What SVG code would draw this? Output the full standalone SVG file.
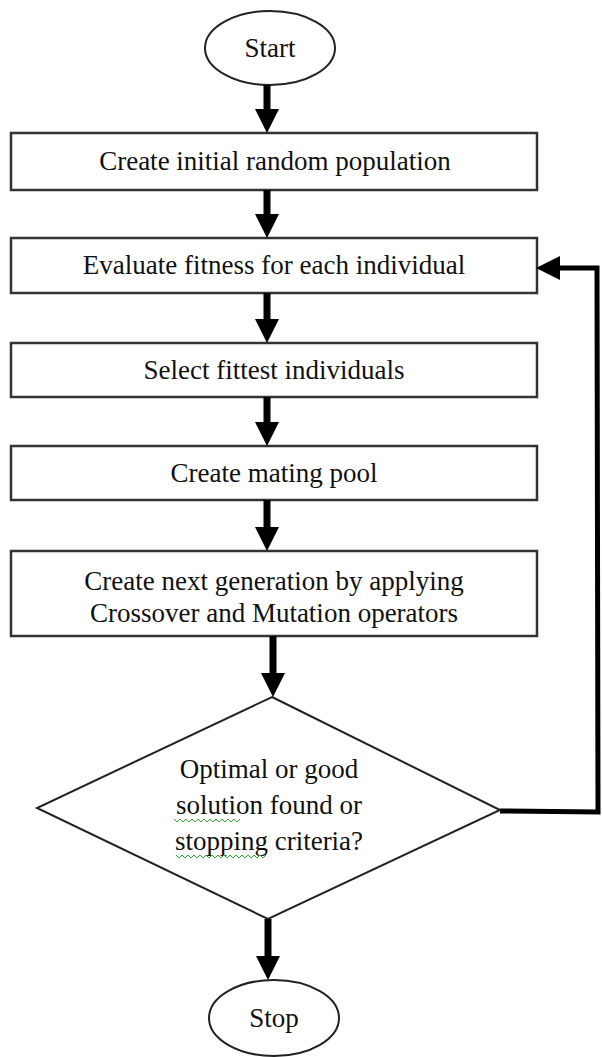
<svg xmlns="http://www.w3.org/2000/svg" width="602" height="1057" viewBox="0 0 602 1057">
<style>
.box{fill:#fff;stroke:#333;stroke-width:2.5}
.term{fill:#fff;stroke:#222;stroke-width:2}
.dia{fill:#fff;stroke:#222;stroke-width:2}
.t{font-family:"Liberation Serif","Times New Roman",serif;font-size:27px;fill:#111;text-anchor:middle}
.arr{stroke:#000;stroke-width:7;fill:none}
.fb{stroke:#000;stroke-width:5;fill:none;stroke-linejoin:miter}
.sq{stroke:#3a3;stroke-width:1;fill:none}
</style>
<defs>
<marker id="ah" markerUnits="userSpaceOnUse" markerWidth="24" markerHeight="24" refX="0" refY="12" orient="auto" viewBox="0 0 24 24">
<path d="M0,0 L24,12 L0,24 z" fill="#000"/>
</marker>
</defs>
<rect width="602" height="1057" fill="#fff"/>
<g id="start"><ellipse class="term" cx="270" cy="48" rx="65" ry="37"/><text class="t" x="270" y="57">Start</text></g>
<g id="init"><rect class="box" x="11" y="133" width="526" height="57"/><text class="t" x="275" y="170">Create initial random population</text></g>
<g id="eval"><rect class="box" x="11" y="238" width="526" height="55"/><text class="t" x="274" y="274">Evaluate fitness for each individual</text></g>
<g id="select"><rect class="box" x="11" y="343" width="526" height="54"/><text class="t" x="274" y="379">Select fittest individuals</text></g>
<g id="mating"><rect class="box" x="11" y="446" width="526" height="54"/><text class="t" x="274" y="482">Create mating pool</text></g>
<g id="nextgen"><rect class="box" x="11" y="551" width="526" height="85"/><text class="t" x="274" y="590">Create next generation by applying</text><text class="t" x="274" y="622">Crossover and Mutation operators</text></g>
<g id="decision"><polygon class="dia" points="272,697 500,810 268,919 37,808"/>
<text class="t" x="269" y="778">Optimal or good</text>
<text class="t" x="269" y="814">solution found or</text>
<text class="t" x="269" y="850">stopping criteria?</text>
<path class="sq" d="M174,819 l3,3 l3,-3 l3,3 l3,-3 l3,3 l3,-3 l3,3 l3,-3 l3,3 l3,-3 l3,3 l3,-3 l3,3 l3,-3 l3,3 l3,-3 l3,3 l3,-3 l3,3 l3,-3 l3,3 l3,-3"/>
<path class="sq" d="M176,855 l3,3 l3,-3 l3,3 l3,-3 l3,3 l3,-3 l3,3 l3,-3 l3,3 l3,-3 l3,3 l3,-3 l3,3 l3,-3 l3,3 l3,-3 l3,3 l3,-3 l3,3 l3,-3 l3,3 l3,-3 l3,3 l3,-3 l3,3 l3,-3 l3,3 l3,-3 l3,3 l3,-3"/>
</g>
<g id="stop"><ellipse class="term" cx="274" cy="1018" rx="65" ry="38"/><text class="t" x="274" y="1027">Stop</text></g>
<g id="connectors">
<line class="arr" x1="267" y1="85" x2="267" y2="109" marker-end="url(#ah)"/>
<line class="arr" x1="267" y1="190" x2="267" y2="214" marker-end="url(#ah)"/>
<line class="arr" x1="267" y1="293" x2="267" y2="319" marker-end="url(#ah)"/>
<line class="arr" x1="267" y1="397" x2="267" y2="422" marker-end="url(#ah)"/>
<line class="arr" x1="267" y1="500" x2="267" y2="527" marker-end="url(#ah)"/>
<line class="arr" x1="273" y1="636" x2="273" y2="673" marker-end="url(#ah)"/>
<line class="arr" x1="268" y1="919" x2="268" y2="956" marker-end="url(#ah)"/>
<polyline class="fb" points="500,811 598,812 597,268 560,268" marker-end="url(#ah)"/>
</g>
</svg>
